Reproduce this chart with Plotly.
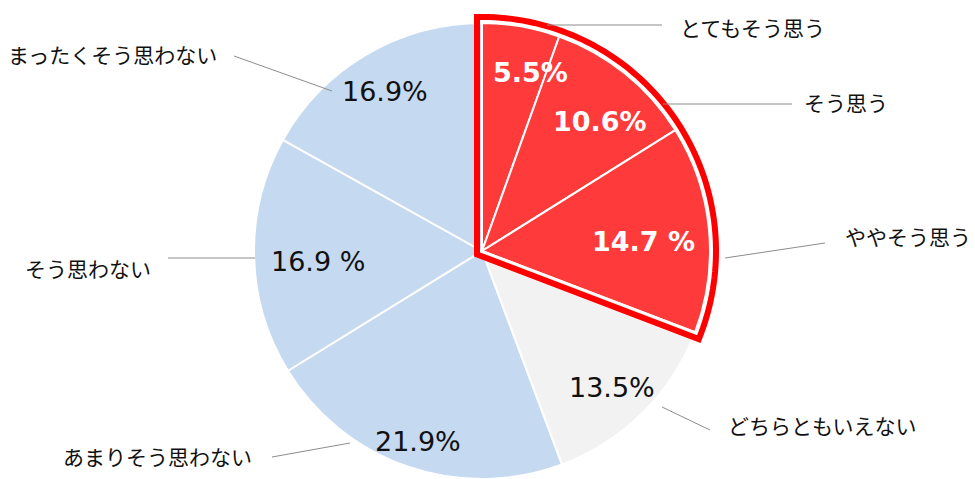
import math
import plotly.graph_objects as go

# ---- data ----
categories = ["とてもそう思う", "そう思う", "ややそう思う", "どちらともいえない",
              "あまりそう思わない", "そう思わない", "まったくそう思わない"]
values = [5.5, 10.6, 14.7, 13.5, 21.9, 16.9, 16.9]
value_labels = ["5.5%", "10.6%", "14.7 %", "13.5%", "21.9%", "16.9 %", "16.9%"]
highlight_count = 3  # first three categories are highlighted (red group)

# ---- styles / layout ----
RED = "#FF3A3A"
colors = [RED] * 3 + ["#F2F2F2"] + ["#C5D9F1"] * 3
W, H = 975, 479
CX, CY, R = 482, 251, 228


def px(x):
    return x / W


def py(y):
    return 1 - y / H


fig = go.Figure()
fig.add_trace(go.Pie(
    values=values, labels=categories, sort=False, direction="clockwise",
    rotation=0, textinfo="none", hoverinfo="label+percent", showlegend=False,
    marker=dict(colors=colors, line=dict(color="white", width=2)),
    domain=dict(x=[px(CX - R), px(CX + R)], y=[py(CY + R), py(CY - R)]),
))

# ---- red outline around highlighted group ----
total = sum(values)
share = sum(values[:highlight_count]) / total
t0, t1 = 0.0, share * 360.0
delta, Ro = 5.0, R + 6.0


def d(theta):
    a = math.radians(theta)
    return (math.sin(a), -math.cos(a))


n0 = d(t0 - 90)
n1 = d(t1 + 90)
dot = n0[0] * n1[0] + n0[1] * n1[1]
vx = CX + delta * (n0[0] + n1[0]) / (1 + dot)
vy = CY + delta * (n0[1] + n1[1]) / (1 + dot)
aoff = math.degrees(math.asin(delta / Ro))
pts = [(vx, vy)]
N = 80
for i in range(N + 1):
    th = (t0 - aoff) + (t1 - t0 + 2 * aoff) * i / N
    dx, dy = d(th)
    pts.append((CX + Ro * dx, CY + Ro * dy))
path = "M " + " L ".join(f"{px(x):.5f},{py(y):.5f}" for x, y in pts) + " Z"
shapes = [dict(type="path", path=path, xref="paper", yref="paper", layer="above",
               line=dict(color="#FF0000", width=6), fillcolor="rgba(0,0,0,0)")]

# ---- leader lines ----
leaders = [(547, 25, 662, 25), (663, 104, 792, 104), (725, 258, 825, 243),
           (662, 407, 710, 430), (350, 443, 272, 457), (255, 258, 168, 258),
           (332, 91, 234, 56)]
for x0, y0, x1, y1 in leaders:
    shapes.append(dict(type="line", xref="paper", yref="paper", layer="above",
                       x0=px(x0), y0=py(y0), x1=px(x1), y1=py(y1),
                       line=dict(color="#8C8C8C", width=1)))

# ---- labels ----
pct_pos = [(530, 72), (600, 122), (643, 241), (612, 387), (418, 441), (318, 261), (385, 91)]
cat_pos = [(752, 27), (846, 102), (908, 236), (822, 425), (157, 456), (88, 268), (112, 54)]
annotations = []
for i, (txt, (x, y)) in enumerate(zip(value_labels, pct_pos)):
    hl = i < highlight_count
    annotations.append(dict(
        x=px(x), y=py(y), xref="paper", yref="paper", showarrow=False,
        xanchor="center", yanchor="middle",
        text=f"<b>{txt}</b>" if hl else txt,
        font=dict(family="DejaVu Sans", size=27, color="white" if hl else "#111111"),
    ))
for txt, (x, y) in zip(categories, cat_pos):
    annotations.append(dict(
        x=px(x), y=py(y), xref="paper", yref="paper", showarrow=False,
        xanchor="center", yanchor="middle", text=txt,
        font=dict(family="Noto Sans CJK JP", size=21, color="#111111"),
    ))

fig.update_layout(
    width=W, height=H, margin=dict(l=0, r=0, t=0, b=0),
    paper_bgcolor="white", plot_bgcolor="white",
    shapes=shapes, annotations=annotations,
)
fig.write_html("out.html")
